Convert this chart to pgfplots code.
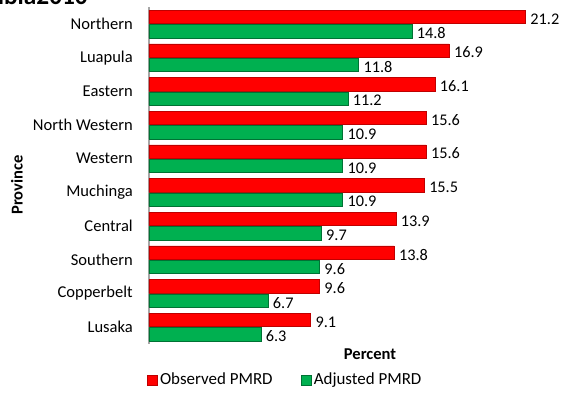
\documentclass[border=0pt]{standalone}
\usepackage{pgfplots}
\pgfplotsset{compat=1.18}
\usepackage{fontspec}
\setmainfont{Carlito}
\definecolor{obsred}{HTML}{FF0000}
\definecolor{adjgreen}{HTML}{00B050}
\begin{document}
\begin{tikzpicture}
\useasboundingbox (0pt,0pt) rectangle (420.75pt,-295.5pt);
\clip (0pt,0pt) rectangle (420.75pt,-295.5pt);
\node[anchor=base east, font=\bfseries\fontsize{19}{22}\selectfont, inner sep=0pt] at (66pt,-3.2pt) {Zambia2010};
\begin{axis}[
  at={(111.75pt,-5.4pt)}, anchor=north west,
  scale only axis, width=306.4pt, height=252.5pt,
  xmin=0, xmax=23, ymin=-0.5, ymax=9.5,
  xbar, bar width=10pt,
  axis x line=none, axis y line*=left,
  y axis line style={draw=gray!70, line width=0.8pt, -},
  ytick={0,...,9},
  yticklabels={Lusaka,Copperbelt,Southern,{Central },Muchinga,Western,North Western,Eastern,Luapula,Northern},
  major tick length=0pt,
  yticklabel style={font=\fontsize{12.4}{14}\selectfont, inner sep=0pt, xshift=-12pt},
  nodes near coords,
  nodes near coords style={anchor=west, text=black, font=\fontsize{12.2}{14}\selectfont, inner sep=0pt, xshift=3.5pt, yshift=-1.5pt,
    /pgf/number format/.cd, fixed, precision=1, fixed zerofill, assume math mode=true},
  legend style={at={(0.334,-0.107)}, anchor=center, draw=none, legend columns=2,
    font=\fontsize{12.7}{14}\selectfont, inner sep=0pt,
    /tikz/every even column/.append style={column sep=19pt}},
  legend image code/.code={\draw[#1] (0pt,-3.75pt) rectangle (7.5pt,3.75pt);},
]
\addplot+[bar shift=5.4pt, draw=obsred!75!black, line width=0.4pt, fill=obsred]
  coordinates {(9.1,0) (9.6,1) (13.8,2) (13.9,3) (15.5,4) (15.6,5) (15.6,6) (16.1,7) (16.9,8) (21.2,9)};
\addlegendentry{Observed PMRD}
\addplot+[bar shift=-5.4pt, draw=adjgreen!65!black, line width=0.4pt, fill=adjgreen]
  coordinates {(6.3,0) (6.7,1) (9.6,2) (9.7,3) (10.9,4) (10.9,5) (10.9,6) (11.2,7) (11.8,8) (14.8,9)};
\addlegendentry{Adjusted PMRD}
\end{axis}
\node[font=\bfseries\fontsize{12.4}{14}\selectfont, inner sep=0pt] at (277.5pt,-265.5pt) {Percent};
\node[font=\bfseries\fontsize{12.4}{14}\selectfont, inner sep=0pt, rotate=90] at (12.75pt,-138.75pt) {Province};
\end{tikzpicture}
\end{document}
